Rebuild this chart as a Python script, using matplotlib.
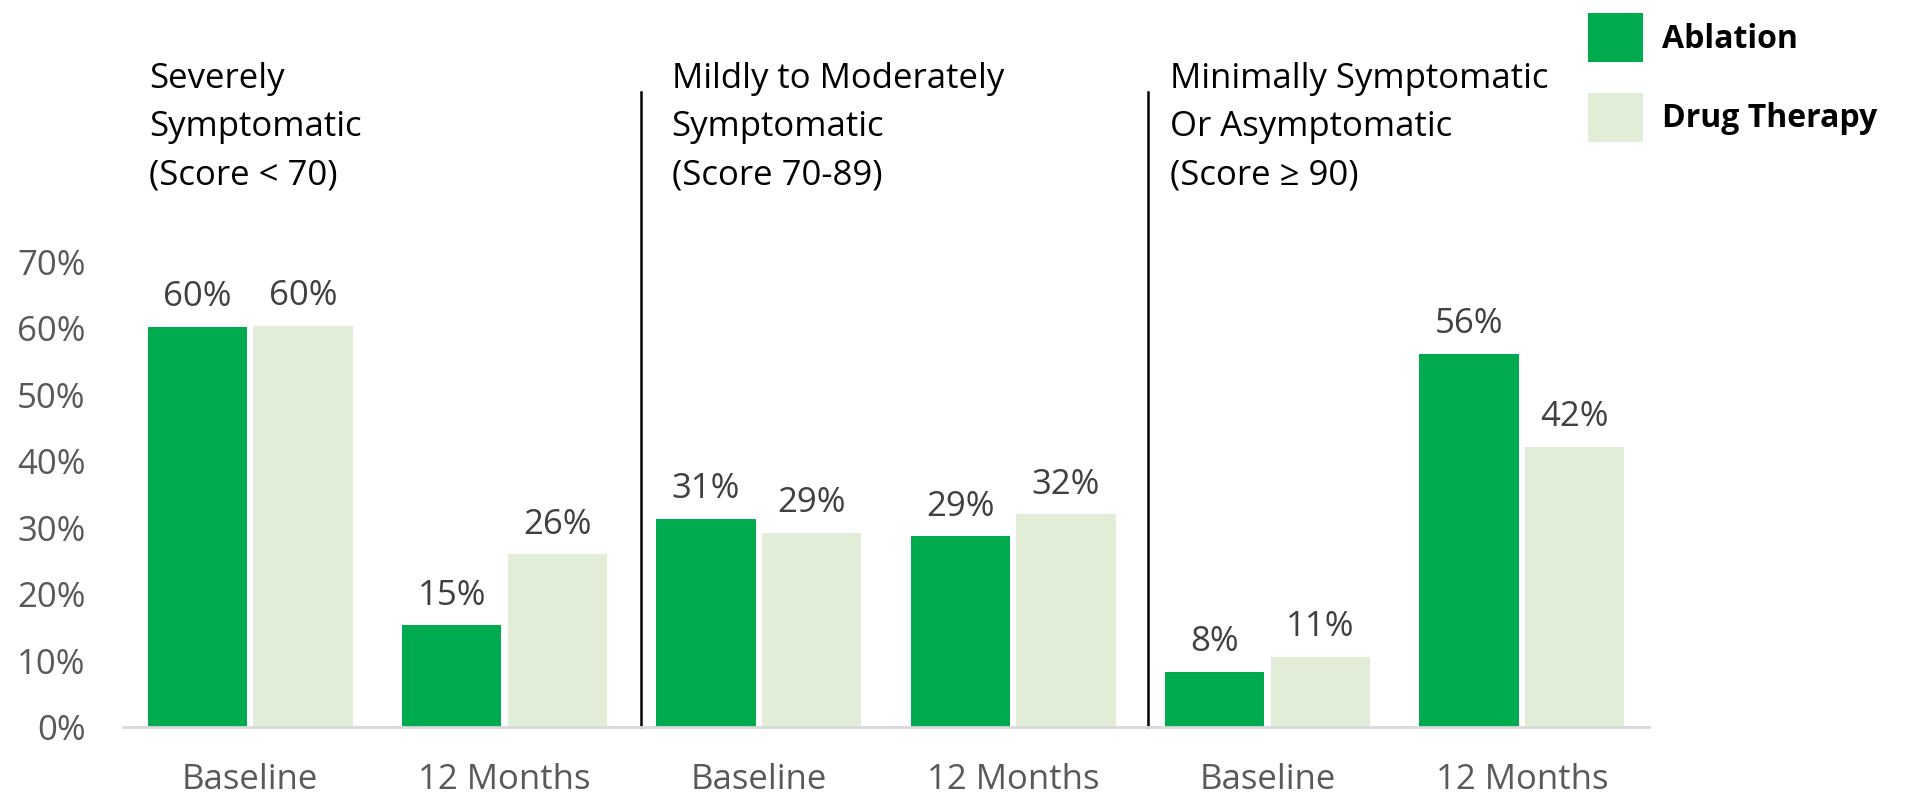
import matplotlib
matplotlib.use("Agg")
import matplotlib.pyplot as plt
import numpy as np

# data
categories = ["Baseline", "12 Months", "Baseline", "12 Months", "Baseline", "12 Months"]
ablation = [60.2, 15.3, 31.3, 28.7, 8.3, 56.2]
drug_therapy = [60.4, 26.0, 29.2, 32.0, 10.6, 42.2]
group_titles = ["Severely\nSymptomatic\n(Score < 70)",
                "Mildly to Moderately\nSymptomatic\n(Score 70-89)",
                "Minimally Symptomatic\nOr Asymptomatic\n(Score ≥ 90)"]
series_names = ["Ablation", "Drug Therapy"]

c_abl = "#00AB4F"
c_drug = "#E2EDD8"
FONT = ["Open Sans", "DejaVu Sans"]
plt.rcParams["font.family"] = FONT
FS = 25

W, H = 1919, 802
fig = plt.figure(figsize=(W / 100, H / 100), dpi=100)
ax = fig.add_axes([123 / W, 1 - 727 / H, (1649 - 123) / W, (727 - 262) / H])

x = np.arange(len(categories))
bw = 0.39
off = 0.208
b1 = ax.bar(x - off, ablation, bw, color=c_abl, label=series_names[0])
b2 = ax.bar(x + off, drug_therapy, bw, color=c_drug, label=series_names[1])

for bars, vals in [(b1, ablation), (b2, drug_therapy)]:
    for r, v in zip(bars, vals):
        ax.text(r.get_x() + r.get_width() / 2, v + 1.9, f"{round(v)}%",
                ha="center", va="bottom", fontsize=FS, color="#404040")

ax.set_xlim(-0.5, 5.5)
ax.set_ylim(0, 70)
ax.set_yticks(np.arange(0, 71, 10))
ax.set_yticklabels([f"{t}%" for t in range(0, 71, 10)], fontsize=FS, color="#595959")
ax.set_xticks(x)
ax.set_xticklabels(categories, fontsize=FS, color="#595959")
ax.tick_params(length=0)
ax.tick_params(axis="x", pad=26)
ax.tick_params(axis="y", pad=27)
for s in ["top", "right", "left"]:
    ax.spines[s].set_visible(False)
ax.spines["bottom"].set_color("#D9D9D9")
ax.spines["bottom"].set_linewidth(2)

# group separators
top_frac = (727 - 92) / (727 - 262)
for sx in [1.535, 3.53]:
    ax.axvline(sx, ymin=0, ymax=top_frac, color="black", lw=1.8, clip_on=False)

# group titles
for tx, t in zip([-0.398, 1.657, 3.618], group_titles):
    ax.text(tx, 90.3, t, ha="left", va="center", fontsize=FS, color="black",
            linespacing=1.55, clip_on=False)

fig.legend(handles=[b1, b2], loc="upper left",
           bbox_to_anchor=(1588 / W, 1 - 13 / H), frameon=False,
           prop={"weight": "bold", "size": 23, "family": FONT},
           handlelength=1.72, handleheight=1.985, labelspacing=0.96,
           handletextpad=0.6, borderpad=0, borderaxespad=0)

fig.savefig("out.png", dpi=100)
